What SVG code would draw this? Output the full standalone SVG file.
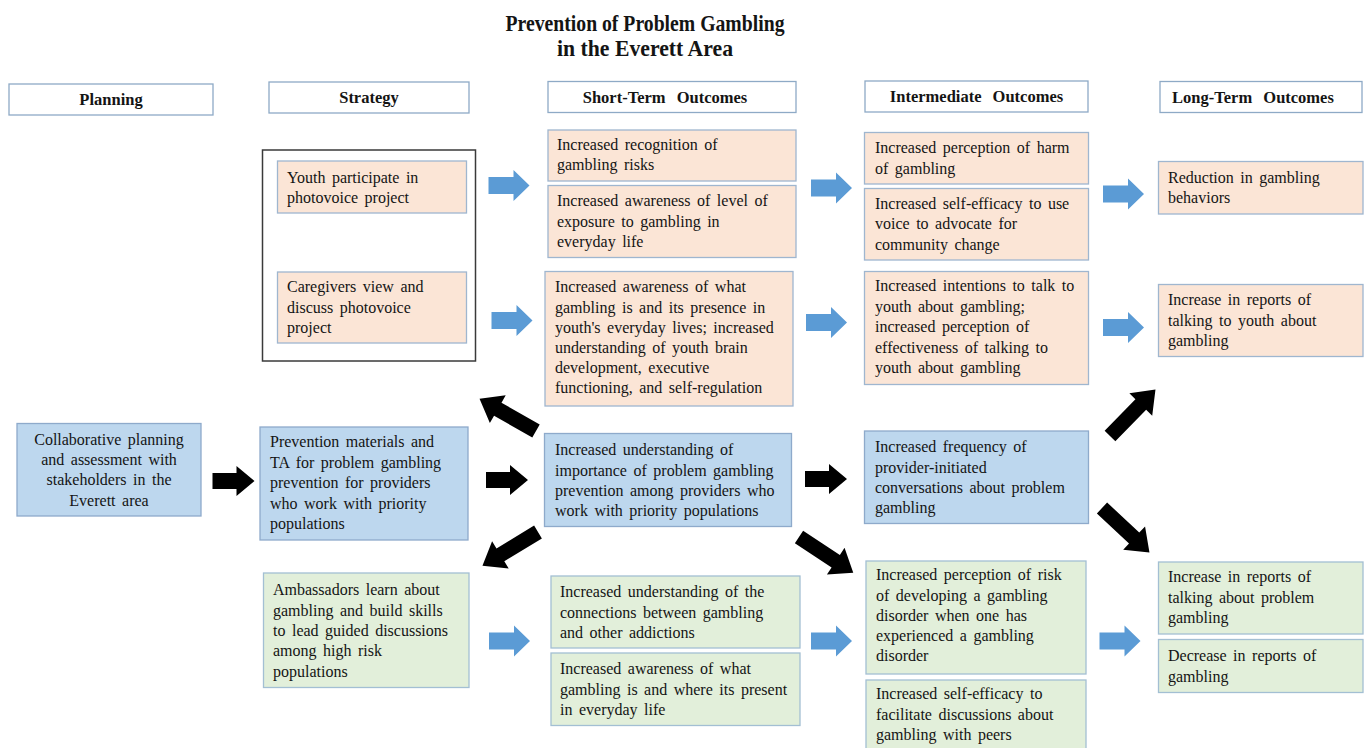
<svg xmlns="http://www.w3.org/2000/svg" width="1366" height="748" viewBox="0 0 1366 748">
  <style>
    text { font-family: "Liberation Serif", "Times New Roman", serif; fill: #141414; }
    .title { font-size: 23px; font-weight: bold; }
    .head { font-size: 16.5px; font-weight: bold; word-spacing: 7px; }
    .body { font-size: 16px; word-spacing: 2.5px; }
    .hdr { fill: #ffffff; stroke: #8eaac6; stroke-width: 1.3; }
    .peach { fill: #fbe5d6; stroke: #9fb6cf; stroke-width: 1.3; }
    .blue { fill: #bdd7ee; stroke: #8eaacb; stroke-width: 1.3; }
    .green { fill: #e2efda; stroke: #a3bfd3; stroke-width: 1.3; }
    .frame { fill: none; stroke: #3a3a3a; stroke-width: 1.5; }
    .flow { fill: #5b9bd5; }
    .push { fill: #000000; }
  </style>
  <defs>
    <!-- block arrows, drawn from the tail centre pointing along +x -->
    <path id="arrowBlue" d="M0,-8.5 H25 V-15.5 L41,0 L25,15.5 V8.5 H0 Z"/>
    <path id="arrowShort" d="M0,-8 H24 V-15 L42,0 L24,15 V8 H0 Z"/>
    <path id="arrowLong" d="M0,-7.5 H44 V-16 L65,0 L44,16 V7.5 H0 Z"/>
  </defs>

  <!-- title -->
  <g id="title">
    <text class="title" x="645" y="31" text-anchor="middle" textLength="279" lengthAdjust="spacingAndGlyphs">Prevention of Problem Gambling</text>
    <text class="title" x="645" y="56" text-anchor="middle" textLength="176" lengthAdjust="spacingAndGlyphs">in the Everett Area</text>
  </g>

  <!-- column headings -->
  <g id="header-planning">
    <rect class="hdr" x="9" y="84" width="204" height="31"/>
    <text class="head" x="111" y="105" text-anchor="middle">Planning</text>
  </g>
  <g id="header-strategy">
    <rect class="hdr" x="269" y="82" width="200" height="31"/>
    <text class="head" x="369" y="103" text-anchor="middle">Strategy</text>
  </g>
  <g id="header-short">
    <rect class="hdr" x="548" y="81.5" width="248" height="31"/>
    <text class="head" x="665" y="102.5" text-anchor="middle">Short-Term Outcomes</text>
  </g>
  <g id="header-intermediate">
    <rect class="hdr" x="865" y="81" width="223" height="31"/>
    <text class="head" x="976.5" y="102" text-anchor="middle">Intermediate Outcomes</text>
  </g>
  <g id="header-long">
    <rect class="hdr" x="1160" y="81.5" width="202" height="31"/>
    <text class="head" x="1253" y="102.5" text-anchor="middle">Long-Term Outcomes</text>
  </g>

  <!-- youth / caregiver strategy frame -->
  <g id="strategy-photovoice">
    <rect class="frame" x="262.5" y="150" width="213" height="211"/>
    <g id="youth-photovoice">
      <rect class="peach" x="277.5" y="161" width="189" height="52"/>
      <text class="body" x="287" y="182.5">Youth participate in</text>
      <text class="body" x="287" y="203">photovoice project</text>
    </g>
    <g id="caregivers-photovoice">
      <rect class="peach" x="277.5" y="272" width="189" height="71"/>
      <text class="body" x="287" y="292">Caregivers view and</text>
      <text class="body" x="287" y="312.5">discuss photovoice</text>
      <text class="body" x="287" y="333">project</text>
    </g>
  </g>

  <!-- short-term outcomes, youth and caregivers -->
  <g id="st-recognition">
    <rect class="peach" x="548" y="130" width="248" height="51"/>
    <text class="body" x="557" y="149.5">Increased recognition of</text>
    <text class="body" x="557" y="170">gambling risks</text>
  </g>
  <g id="st-exposure">
    <rect class="peach" x="548" y="185.5" width="248" height="72"/>
    <text class="body" x="557" y="206">Increased awareness of level of</text>
    <text class="body" x="557" y="226.5">exposure to gambling in</text>
    <text class="body" x="557" y="247">everyday life</text>
  </g>
  <g id="st-caregiver-awareness">
    <rect class="peach" x="545" y="271.5" width="248" height="134.5"/>
    <text class="body" x="555" y="292">Increased awareness of what</text>
    <text class="body" x="555" y="312.5">gambling is and its presence in</text>
    <text class="body" x="555" y="333">youth's everyday lives; increased</text>
    <text class="body" x="555" y="353">understanding of youth brain</text>
    <text class="body" x="555" y="373">development, executive</text>
    <text class="body" x="555" y="393">functioning, and self-regulation</text>
  </g>

  <!-- intermediate outcomes, youth and caregivers -->
  <g id="it-harm">
    <rect class="peach" x="864.5" y="132.5" width="224" height="51.5"/>
    <text class="body" x="875" y="153">Increased perception of harm</text>
    <text class="body" x="875" y="173.5">of gambling</text>
  </g>
  <g id="it-advocacy">
    <rect class="peach" x="864.5" y="188.5" width="224" height="71.5"/>
    <text class="body" x="875" y="208.5">Increased self-efficacy to use</text>
    <text class="body" x="875" y="229">voice to advocate for</text>
    <text class="body" x="875" y="249.5">community change</text>
  </g>
  <g id="it-talk-intentions">
    <rect class="peach" x="864.5" y="271.5" width="224" height="113"/>
    <text class="body" x="875" y="291">Increased intentions to talk to</text>
    <text class="body" x="875" y="311.5">youth about gambling;</text>
    <text class="body" x="875" y="332">increased perception of</text>
    <text class="body" x="875" y="352.5">effectiveness of talking to</text>
    <text class="body" x="875" y="373">youth about gambling</text>
  </g>

  <!-- long-term outcomes, youth and caregivers -->
  <g id="lt-reduction">
    <rect class="peach" x="1158.5" y="161.5" width="204.5" height="52.5"/>
    <text class="body" x="1168" y="182.5">Reduction in gambling</text>
    <text class="body" x="1168" y="203">behaviors</text>
  </g>
  <g id="lt-talking-youth">
    <rect class="peach" x="1158.5" y="284.5" width="204.5" height="72"/>
    <text class="body" x="1168" y="305">Increase in reports of</text>
    <text class="body" x="1168" y="325.5">talking to youth about</text>
    <text class="body" x="1168" y="346">gambling</text>
  </g>

  <!-- provider track -->
  <g id="planning-collab">
    <rect class="blue" x="17" y="423.5" width="184" height="92.5"/>
    <text class="body" x="109" y="444.5" text-anchor="middle">Collaborative planning</text>
    <text class="body" x="109" y="465" text-anchor="middle">and assessment with</text>
    <text class="body" x="109" y="485" text-anchor="middle">stakeholders in the</text>
    <text class="body" x="109" y="505.5" text-anchor="middle">Everett area</text>
  </g>
  <g id="strategy-providers">
    <rect class="blue" x="260" y="427" width="208" height="113"/>
    <text class="body" x="270" y="447">Prevention materials and</text>
    <text class="body" x="270" y="467.5">TA for problem gambling</text>
    <text class="body" x="270" y="488">prevention for providers</text>
    <text class="body" x="270" y="508.5">who work with priority</text>
    <text class="body" x="270" y="529">populations</text>
  </g>
  <g id="st-providers">
    <rect class="blue" x="544.5" y="433.5" width="247" height="93"/>
    <text class="body" x="555" y="455">Increased understanding of</text>
    <text class="body" x="555" y="475.5">importance of problem gambling</text>
    <text class="body" x="555" y="496">prevention among providers who</text>
    <text class="body" x="555" y="516">work with priority populations</text>
  </g>
  <g id="it-providers">
    <rect class="blue" x="864.5" y="431" width="224" height="92.5"/>
    <text class="body" x="875" y="452">Increased frequency of</text>
    <text class="body" x="875" y="472.5">provider-initiated</text>
    <text class="body" x="875" y="493">conversations about problem</text>
    <text class="body" x="875" y="513">gambling</text>
  </g>

  <!-- ambassador track -->
  <g id="strategy-ambassadors">
    <rect class="green" x="263.5" y="573" width="205.5" height="114.5"/>
    <text class="body" x="273" y="595">Ambassadors learn about</text>
    <text class="body" x="273" y="615.5">gambling and build skills</text>
    <text class="body" x="273" y="636">to lead guided discussions</text>
    <text class="body" x="273" y="656">among high risk</text>
    <text class="body" x="273" y="676.5">populations</text>
  </g>
  <g id="st-addictions">
    <rect class="green" x="551" y="576" width="249" height="72"/>
    <text class="body" x="560" y="597">Increased understanding of the</text>
    <text class="body" x="560" y="617.5">connections between gambling</text>
    <text class="body" x="560" y="638">and other addictions</text>
  </g>
  <g id="st-presence">
    <rect class="green" x="551" y="653" width="249" height="72.5"/>
    <text class="body" x="560" y="674">Increased awareness of what</text>
    <text class="body" x="560" y="694.5">gambling is and where its present</text>
    <text class="body" x="560" y="715">in everyday life</text>
  </g>
  <g id="it-risk">
    <rect class="green" x="866" y="561" width="220" height="113"/>
    <text class="body" x="876" y="580">Increased perception of risk</text>
    <text class="body" x="876" y="600.5">of developing a gambling</text>
    <text class="body" x="876" y="620.5">disorder when one has</text>
    <text class="body" x="876" y="641">experienced a gambling</text>
    <text class="body" x="876" y="661">disorder</text>
  </g>
  <g id="it-peer-discussions">
    <rect class="green" x="866" y="680" width="220" height="75"/>
    <text class="body" x="876" y="699">Increased self-efficacy to</text>
    <text class="body" x="876" y="719.5">facilitate discussions about</text>
    <text class="body" x="876" y="740">gambling with peers</text>
  </g>
  <g id="lt-talking-problem">
    <rect class="green" x="1158.5" y="562" width="204.5" height="72"/>
    <text class="body" x="1168" y="582">Increase in reports of</text>
    <text class="body" x="1168" y="602.5">talking about problem</text>
    <text class="body" x="1168" y="623">gambling</text>
  </g>
  <g id="lt-decrease">
    <rect class="green" x="1158.5" y="639.5" width="204.5" height="53"/>
    <text class="body" x="1168" y="661">Decrease in reports of</text>
    <text class="body" x="1168" y="681.5">gambling</text>
  </g>

  <!-- connectors -->
  <g id="connectors">
    <!-- blue flow arrows between outcome columns -->
    <use href="#arrowBlue" class="flow" transform="translate(488.5,185.5)"/>
    <use href="#arrowBlue" class="flow" transform="translate(491.5,320.5)"/>
    <use href="#arrowBlue" class="flow" transform="translate(811,188)"/>
    <use href="#arrowBlue" class="flow" transform="translate(806,322.5)"/>
    <use href="#arrowBlue" class="flow" transform="translate(1103,194)"/>
    <use href="#arrowBlue" class="flow" transform="translate(1103,327.5)"/>
    <use href="#arrowBlue" class="flow" transform="translate(489,641)"/>
    <use href="#arrowBlue" class="flow" transform="translate(811,641)"/>
    <use href="#arrowBlue" class="flow" transform="translate(1099.5,641)"/>
    <!-- black arrows of the provider track -->
    <use href="#arrowShort" class="push" transform="translate(212.5,481)"/>
    <use href="#arrowShort" class="push" transform="translate(486,480)"/>
    <use href="#arrowShort" class="push" transform="translate(805,479)"/>
    <use href="#arrowLong" class="push" transform="translate(536,431) rotate(-150.3)"/>
    <use href="#arrowLong" class="push" transform="translate(538,532) rotate(148.7)"/>
    <use href="#arrowLong" class="push" transform="translate(799,537) rotate(33.4)"/>
    <use href="#arrowLong" class="push" transform="translate(1110,436) rotate(-45.6)"/>
    <use href="#arrowLong" class="push" transform="translate(1102,508) rotate(43.1)"/>
  </g>
</svg>
